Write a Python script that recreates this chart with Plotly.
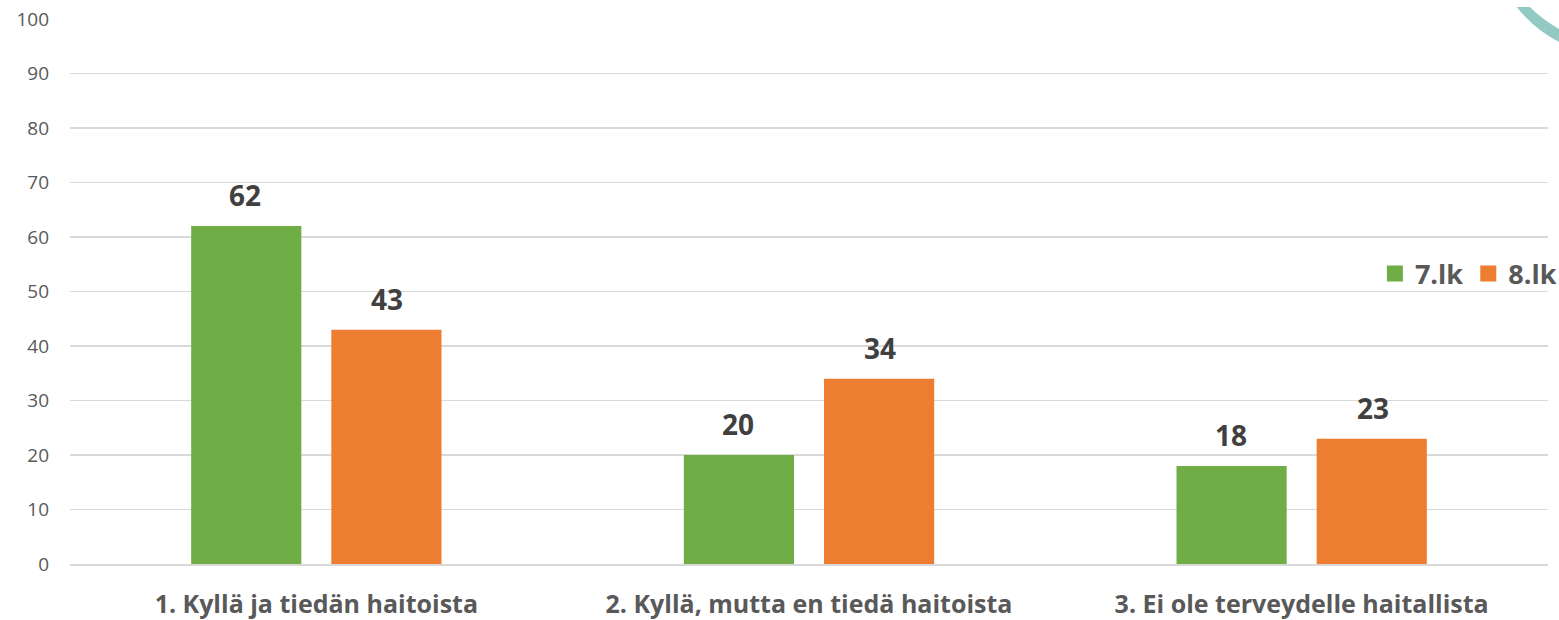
import plotly.graph_objects as go

categories = ["1. Kyllä ja tiedän haitoista", "2. Kyllä, mutta en tiedä haitoista", "3. Ei ole terveydelle haitallista"]
series_names = ["7.lk", "8.lk"]
values_7 = [62, 20, 18]
values_8 = [43, 34, 23]
colors = ["#70AD47", "#ED7D31"]
y_ticks = [0, 10, 20, 30, 40, 50, 60, 70, 80, 90, 100]

FONT = "'Open Sans', 'DejaVu Sans', sans-serif"

fig = go.Figure()
for name, vals, col in zip(series_names, [values_7, values_8], colors):
    fig.add_trace(go.Bar(x=categories, y=vals, name=f"<b>{name}</b>", showlegend=False,
                         marker=dict(color=col, line=dict(width=0))))
# legend entries with larger square swatches
for name, col in zip(series_names, colors):
    fig.add_trace(go.Scatter(x=[None], y=[None], mode="markers", name=f"<b>{name}</b>",
                             marker=dict(symbol="square", size=16, color=col)))

# data labels
for vals, sh in zip([values_7, values_8], [-71, 71]):
    for c, v in zip(categories, vals):
        fig.add_annotation(x=c, y=v, xref="x", yref="y", text=f"<b>{v}</b>", showarrow=False,
                           xshift=sh, yanchor="bottom", yshift=10,
                           font=dict(family=FONT, size=28, color="#404040"))

# decorative arc in top-right corner
fig.add_shape(type="path", xref="paper", yref="paper",
              path="M 0.97887 1.02202 L 0.98772 1.02202 Q 0.99651 0.99817 1.00872 0.97982 "
                   "L 1.00872 0.95596 Q 0.99074 0.98028 0.97887 1.02202 Z",
              fillcolor="#92C9C3", line=dict(width=0), layer="above")

fig.update_layout(
    width=1574, height=620, autosize=False,
    margin=dict(l=70, r=13, t=19, b=56),
    paper_bgcolor="white", plot_bgcolor="white",
    barmode="group", bargap=0.431, bargroupgap=0.214,
    font=dict(family=FONT, color="#595959"),
    showlegend=True,
    legend=dict(orientation="h", x=1.0094, xanchor="right", y=0.532, yanchor="middle",
                font=dict(family=FONT, size=27, color="#595959"),
                itemsizing="trace", traceorder="normal", bgcolor="rgba(0,0,0,0)",
                itemwidth=30),
    xaxis=dict(showline=True, linecolor="#D9D9D9", linewidth=1.5, ticks="",
               tickfont=dict(family=FONT, size=25, color="#595959"),
               tickprefix="<b>", ticksuffix="</b>", ticklabelstandoff=17,
               automargin=False, fixedrange=True),
    yaxis=dict(range=[0, 100], tickvals=y_ticks, showgrid=True, gridcolor="#D9D9D9", gridwidth=1.5,
               zeroline=False, showline=False, ticks="", ticklabelstandoff=20,
               tickfont=dict(family=FONT, size=19, color="#595959"),
               automargin=False, fixedrange=True),
)

post = (
    "document.documentElement.style.margin='0px';"
    "document.documentElement.style.overflow='hidden';"
    "document.body.style.margin='0px';"
    "document.body.style.overflow='hidden';"
    "document.querySelectorAll('.plotly-graph-div').forEach(function(d){"
    "d.style.overflow='hidden';if(d.parentElement){d.parentElement.style.overflow='hidden';}});"
)
fig.write_html("out.html",
               config={"responsive": False, "displayModeBar": False, "staticPlot": True},
               post_script=post)
